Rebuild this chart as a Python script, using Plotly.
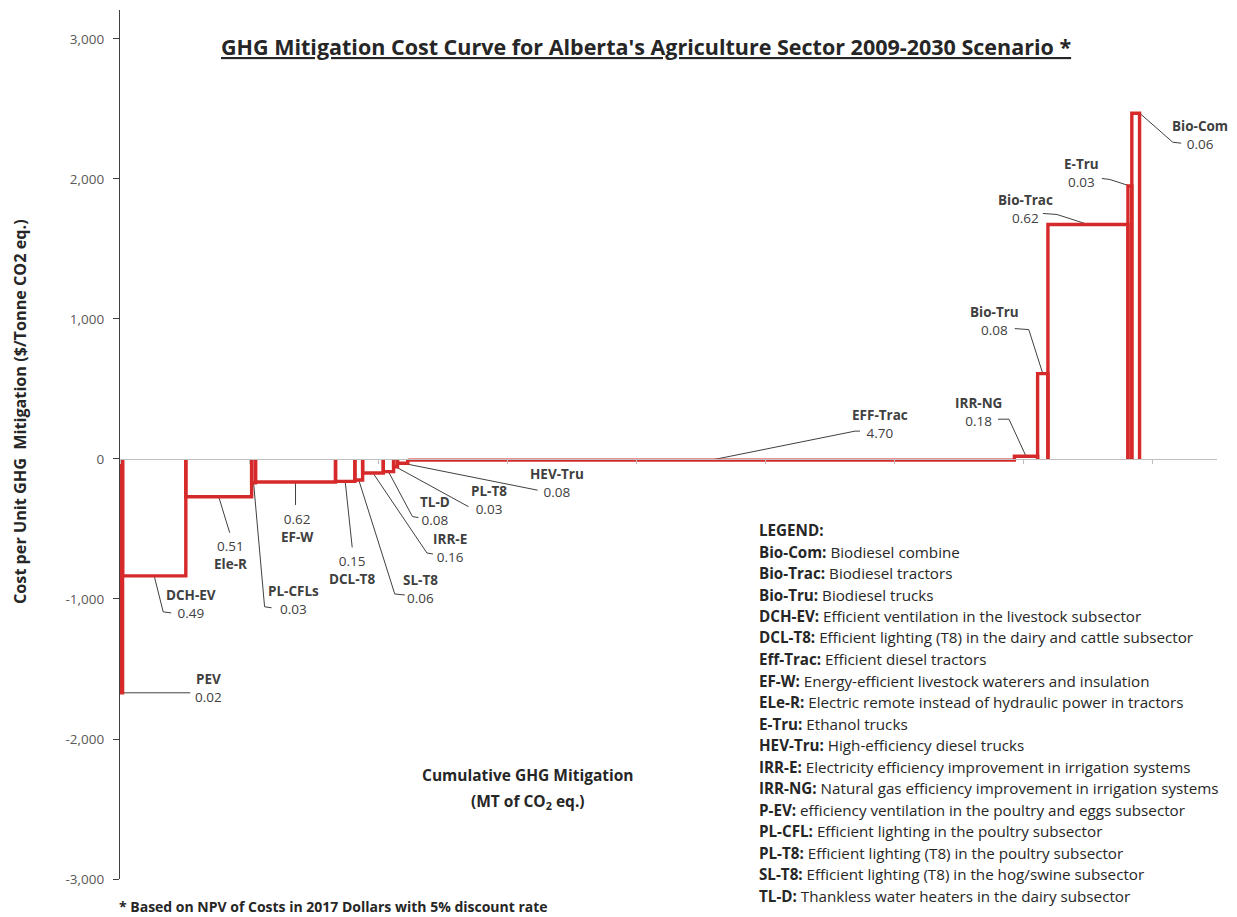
import plotly.graph_objects as go

# ---------------- data ----------------
CODES = ["PEV", "DCH-EV", "Ele-R", "PL-CFLs", "EF-W", "DCL-T8", "SL-T8", "IRR-E", "TL-D",
         "PL-T8", "HEV-Tru", "EFF-Trac", "IRR-NG", "Bio-Tru", "Bio-Trac", "E-Tru", "Bio-Com"]
MITIGATION = [0.02, 0.49, 0.51, 0.03, 0.62, 0.15, 0.06, 0.16, 0.08,
              0.03, 0.08, 4.70, 0.18, 0.08, 0.62, 0.03, 0.06]          # MT CO2 eq.
COST = [-1670, -835, -270, -170, -164, -160, -150, -100, -90,
        -55, -30, -8, 20, 610, 1675, 1950, 2470]                          # $/tonne

Y_TICKS = [-3000, -2000, -1000, 0, 1000, 2000, 3000]
Y_TICK_TEXT = ["-3,000", "-2,000", "-1,000", "0", "1,000", "2,000", "3,000"]

LEGEND_ABBR = ["Bio-Com", "Bio-Trac", "Bio-Tru", "DCH-EV", "DCL-T8", "Eff-Trac", "EF-W", "ELe-R",
               "E-Tru", "HEV-Tru", "IRR-E", "IRR-NG", "P-EV", "PL-CFL", "PL-T8", "SL-T8", "TL-D"]
LEGEND_DESC = ["Biodiesel combine", "Biodiesel tractors", "Biodiesel trucks",
               "Efficient ventilation in the livestock subsector",
               "Efficient lighting (T8) in the dairy and cattle subsector",
               "Efficient diesel tractors",
               "Energy-efficient livestock waterers and insulation",
               "Electric remote instead of hydraulic power in tractors",
               "Ethanol trucks", "High-efficiency diesel trucks",
               "Electricity efficiency improvement in irrigation systems",
               "Natural gas efficiency improvement in irrigation systems",
               "efficiency ventilation in the poultry and eggs subsector",
               "Efficient lighting in the poultry subsector",
               "Efficient lighting (T8) in the poultry subsector",
               "Efficient lighting (T8) in the hog/swine subsector",
               "Thankless water heaters in the dairy subsector"]

# ---------------- layout constants ----------------
W, H = 1237, 917
ML, MR, MT, MB = 120, 20, 10, 38
X_MIN, X_MAX = 0, 8.5
Y_MIN, Y_MAX = -3000, 3207
PLOT_W = W - ML - MR
PLOT_H = H - MT - MB
XS = PLOT_W / (X_MAX - X_MIN)
YS = PLOT_H / (Y_MAX - Y_MIN)

RED = "#D62A2A"
DARK = "#404040"
TXT = "#262626"
FONT = "Open Sans"

# label placement (pixel offsets from the bar's top-edge midpoint; +y is downward)
# name offset, value offset, leader path
LABEL_POS = {
    "PEV":      ((88, -12), (86, 2), [(0, 0), (69, 0)]),
    "DCH-EV":   ((38, 18), (35, 39), [(0, 0), (9, 36), (17, 37)]),
    "Ele-R":    ((12, 66), (12, 51), [(0, 0), (11, 36)]),
    "PL-CFLs":  ((44, 110), (36, 125), [(0, 0), (11, 124), (18, 125)]),
    "EF-W":     ((3.5, 53), (0.5, 40), [(0, 0), (0, 23)]),
    "DCL-T8":   ((7, 96), (6, 81), [(0, 0), (7, 66)]),
    "SL-T8":    ((62, 102), (62, 117), [(0, 0), (36, 114), (46, 115)]),
    "IRR-E":    ((78.5, 68), (76, 82), [(0, 0), (54, 80), (60, 81)]),
    "TL-D":     ((46, 33), (46.6, 46), [(0, 0), (24, 45), (30, 46)]),
    "PL-T8":    ((93.5, 26), (93.5, 40), [(0, 0), (68, 38), (73, 40)]),
    "HEV-Tru":  ((156, 13), (153, 27), [(0, 0), (127, 26), (135, 27)]),
    "EFF-Trac": ((169.5, -45), (168, -27), [(0, 0), (144, -29), (149, -29)]),
    "IRR-NG":   ((-47.5, -51), (-47, -37), [(0, 0), (-17, -37), (-28, -37)]),
    "Bio-Tru":  ((-50, -61.5), (-46.6, -43.5), [(0, 0), (-14, -44), (-28, -45)]),
    "Bio-Trac": ((-61.5, -23), (-62.5, -8), [(0, 0), (-31, -10), (-45, -11)]),
    "E-Tru":    ((-50.4, -19.6), (-47, -5.6), [(0, 0), (-20, -6.5), (-28, -7.5)]),
    "Bio-Com":  ((66, 12), (62, 32), [(4, 0), (37, 29), (45.5, 30)]),
}

# ---------------- derived geometry ----------------
starts, ends = [], []
cum = 0.0
for w in MITIGATION:
    starts.append(cum)
    cum += w
    ends.append(cum)
mids = [(s + e) / 2 for s, e in zip(starts, ends)]

bx, by = [], []
for s, e, c in zip(starts, ends, COST):
    bx += [s, s, e, e, None]
    by += [0, c, c, 0, None]

lx, ly = [], []
for code, m, c in zip(CODES, mids, COST):
    for dx, dy in LABEL_POS[code][2]:
        lx.append(m + dx / XS)
        ly.append(c - dy / YS)
    lx.append(None)
    ly.append(None)

fig = go.Figure()
fig.add_trace(go.Scatter(x=lx, y=ly, mode="lines", line=dict(color=DARK, width=1),
                         hoverinfo="skip", showlegend=False))
fig.add_trace(go.Scatter(x=bx, y=by, mode="lines", line=dict(color=RED, width=3.4),
                         hoverinfo="skip", showlegend=False))

ann = []
for code, m, c, w in zip(CODES, mids, COST, MITIGATION):
    (ndx, ndy), (vdx, vdy), _ = LABEL_POS[code]
    if ndy < vdy:
        txt = "<b>%s</b><br>%.2f" % (code, w)
    else:
        txt = "%.2f<br><b>%s</b>" % (w, code)
    ann.append(dict(x=m, y=c, xref="x", yref="y", text=txt, showarrow=False, align="center",
                    xshift=(ndx + vdx) / 2, yshift=-(ndy + vdy) / 2,
                    xanchor="center", yanchor="middle",
                    font=dict(family=FONT, size=13.5, color=DARK)))


def px_x(px):
    return (px - ML) / PLOT_W


def px_y(py):
    return (H - MB - py) / PLOT_H


# title
ann.append(dict(x=px_x(646), y=px_y(46), xref="paper", yref="paper", showarrow=False,
                text="<b><u>GHG Mitigation Cost Curve for Alberta's Agriculture Sector 2009-2030 Scenario *</u></b>",
                xanchor="center", yanchor="middle", font=dict(family=FONT, size=21.5, color=TXT)))
# y title
ann.append(dict(x=px_x(20), y=px_y(412), xref="paper", yref="paper", showarrow=False, textangle=-90,
                text="<b>Cost per Unit GHG  Mitigation ($/Tonne CO2 eq.)</b>",
                xanchor="center", yanchor="middle", font=dict(family=FONT, size=16.2, color=TXT)))
# x title
ann.append(dict(x=px_x(528), y=px_y(775), xref="paper", yref="paper", showarrow=False,
                text="<b>Cumulative GHG Mitigation</b>",
                xanchor="center", yanchor="middle", font=dict(family=FONT, size=15.5, color=TXT)))
ann.append(dict(x=px_x(528), y=px_y(801), xref="paper", yref="paper", showarrow=False,
                text="<b>(MT of CO<sub>2</sub> eq.)</b>",
                xanchor="center", yanchor="middle", font=dict(family=FONT, size=15.5, color=TXT)))
# footnote
ann.append(dict(x=px_x(117), y=px_y(906), xref="paper", yref="paper", showarrow=False,
                text="<b>* Based on NPV of Costs in 2017 Dollars with 5% discount rate</b>",
                xanchor="left", yanchor="middle", font=dict(family=FONT, size=14, color=TXT)))
# legend block
LEG_X, LEG_Y0, LEG_DY = 757, 530, 21.5
ann.append(dict(x=px_x(LEG_X), y=px_y(LEG_Y0), xref="paper", yref="paper", showarrow=False,
                text="<b>LEGEND:</b>", xanchor="left", yanchor="middle",
                font=dict(family=FONT, size=15.2, color=TXT)))
for i, (a, d) in enumerate(zip(LEGEND_ABBR, LEGEND_DESC)):
    ann.append(dict(x=px_x(LEG_X), y=px_y(LEG_Y0 + (i + 1) * LEG_DY), xref="paper", yref="paper",
                    showarrow=False, text="<b>%s:</b> %s" % (a, d), xanchor="left", yanchor="middle",
                    font=dict(family=FONT, size=15.2, color=TXT)))

fig.update_layout(
    width=W, height=H, autosize=False,
    margin=dict(l=ML, r=MR, t=MT, b=MB, pad=0),
    paper_bgcolor="white", plot_bgcolor="white",
    showlegend=False,
    annotations=ann,
    xaxis=dict(range=[X_MIN, X_MAX], anchor="free", position=(0 - Y_MIN) / (Y_MAX - Y_MIN),
               showline=True, linecolor="#BFBFBF", linewidth=1, ticks="outside", ticklen=4,
               tickcolor="#BFBFBF", tick0=0, dtick=1, showticklabels=False, showgrid=False,
               zeroline=False),
    yaxis=dict(range=[Y_MIN, Y_MAX], tickvals=Y_TICKS, ticktext=Y_TICK_TEXT,
               showline=True, linecolor="#404040", linewidth=1.2, ticks="outside", ticklen=6,
               tickcolor="#404040", showgrid=False, zeroline=False, ticklabelstandoff=6,
               tickfont=dict(family=FONT, size=13.5, color="#595959")),
)

fig.write_html("out.html", config={"displayModeBar": False},
               post_script="document.body.style.margin='0';")
